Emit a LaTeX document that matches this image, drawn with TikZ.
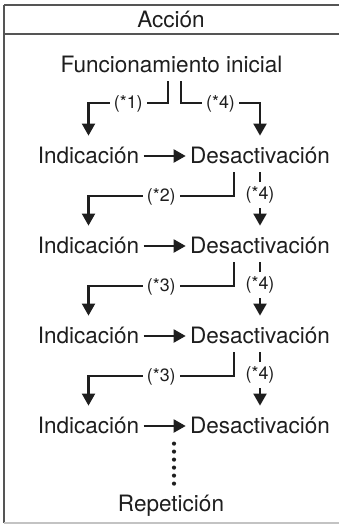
\documentclass[tikz,border=0pt]{standalone}
\usepackage{fontspec}
\setmainfont{TeX Gyre Heros}
\usetikzlibrary{arrows.meta}
\definecolor{ink}{HTML}{1E1E1E}
\definecolor{rulegray}{HTML}{555555}

\begin{document}
\begin{tikzpicture}[x=0.5pt,y=-0.5pt,
  txt/.style={text=ink, font=\fontsize{11.27}{13}\selectfont, anchor=base,
    inner xsep=2pt, inner ysep=4.5pt, text height=9pt, text depth=0pt},
  tag/.style={text=ink, fill=white, font=\fontsize{8.9}{10}\selectfont, inner sep=2.2pt},
  flow/.style={draw=ink, line width=1.05pt, -{Triangle[width=6.5pt,length=6pt]}},
  frame/.style={draw=rulegray, line width=0.75pt},
  dotline/.style={draw=ink, line width=2.1pt, line cap=round, dash pattern=on 0pt off 4pt}]
\useasboundingbox (0,0) rectangle (339,525);

% frame and header
\draw[frame] (4,5) -- (339,5);
\draw[frame] (4,34) -- (339,34);
\draw[frame] (4,5) -- (4,523);
\draw[draw=rulegray!35, line width=0.75pt] (4,523) -- (339,523);
\node[txt] (accion) at (171,27) {Acción};

% nodes
\node[txt] (ini) at (171.5,72) {Funcionamiento inicial};
\foreach \i/\y in {1/163,2/253,3/343,4/433} {
  \node[txt] (ind\i) at (88.5,\y) {Indicación};
  \node[txt] (des\i) at (260,\y) {Desactivación};
}
\node[txt] (rep) at (171,511) {Repetición};

% first split
\draw[flow] ([xshift=-1.75pt]ini.south) -- ++(0,22) -| node[tag,pos=0.25] {(*1)} (ind1.north);
\draw[flow] ([xshift=4.75pt]ini.south) -- ++(0,22) -| node[tag,pos=0.25] {(*4)} (des1.north);

% rows
\foreach \i in {1,...,4}
  \draw[flow] ([yshift=-1pt]ind\i.east) -- ([yshift=-1pt]des\i.west);
\foreach \i/\j/\t in {1/2/2,2/3/3,3/4/3} {
  \draw[flow] ([xshift=-13pt]des\i.south) -- ++(0,24) -| node[tag,pos=0.25] {(*\t)} (ind\j.north);
  \draw[flow] (des\i.south) -- node[tag,pos=0.42] {(*4)} (des\j.north);
}

% repetition
\draw[dotline] ([xshift=1.5pt]rep.north) -- ++(0,-41);
\end{tikzpicture}
\end{document}
